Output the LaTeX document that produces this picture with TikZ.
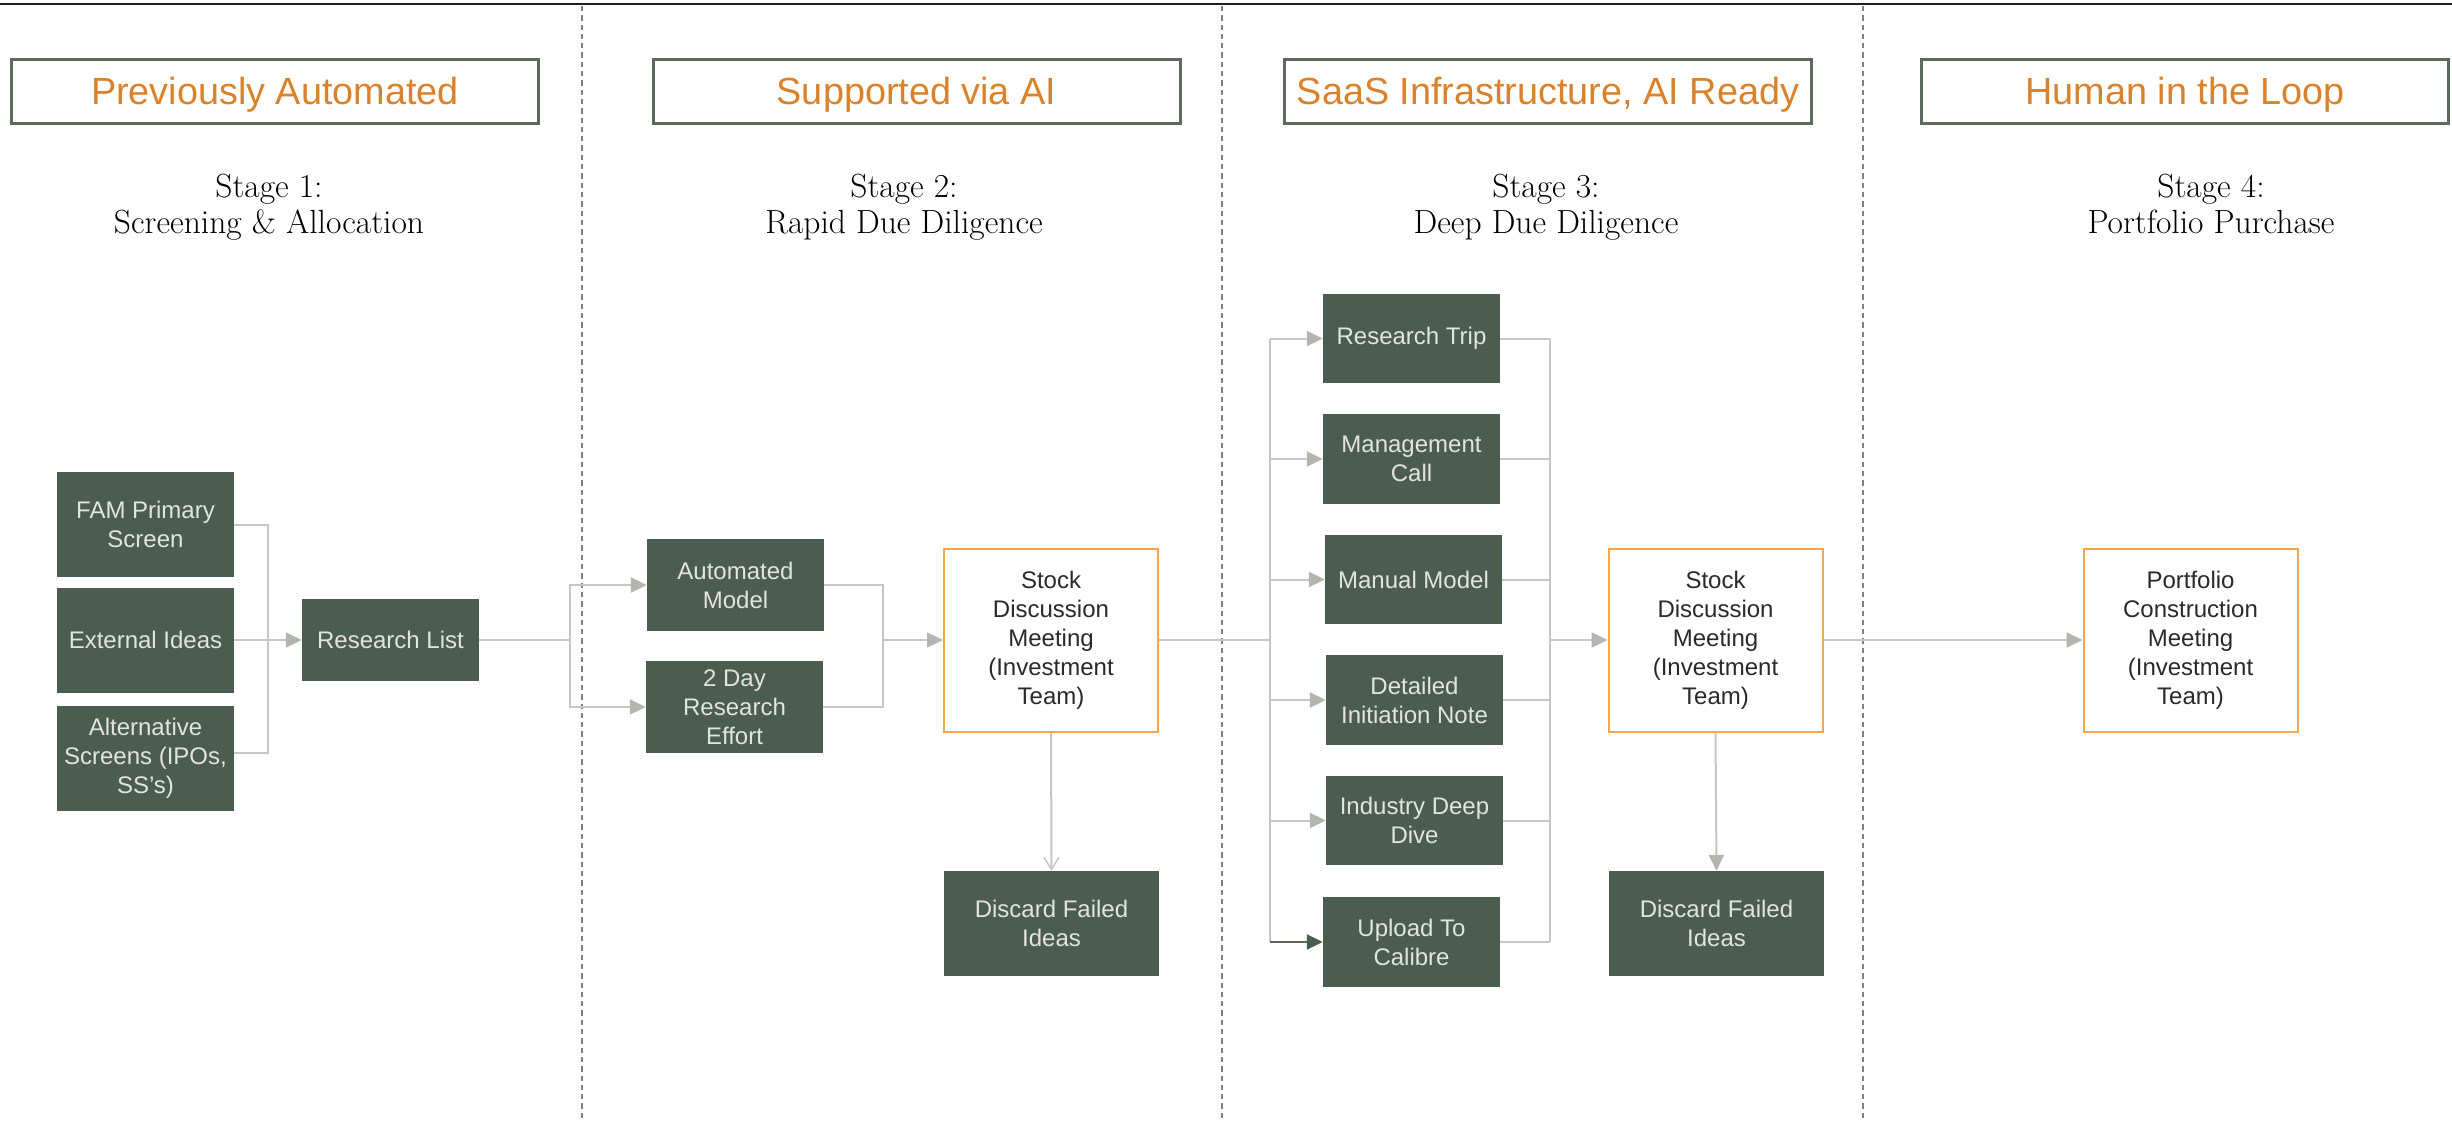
\documentclass[tikz,border=0pt]{standalone}
\usepackage{fontspec}
\usetikzlibrary{arrows.meta}
\newfontfamily\grotesk{Liberation Sans}

\definecolor{hdrline}{HTML}{5B6A5C}
\definecolor{hdrorange}{HTML}{D9822B}
\definecolor{boxgreen}{HTML}{4A5D4E}
\definecolor{boxtext}{HTML}{E4E4DE}
\definecolor{meetline}{HTML}{F5A54A}
\definecolor{darktext}{HTML}{2A2A2A}
\definecolor{linegray}{HTML}{C6C6C2}
\definecolor{tipgray}{HTML}{B3B5AE}
\definecolor{sepgray}{HTML}{7D827C}
\definecolor{ruledark}{HTML}{1E1E1E}
\definecolor{uploadline}{HTML}{5E635C}

\tikzset{
  hdrbox/.style={draw=hdrline, line width=3pt, fill=white, inner sep=0pt,
    minimum width=527pt, minimum height=64pt, text=hdrorange,
    font={\grotesk\fontsize{37.8}{45}\selectfont}, text height=27pt, text depth=0pt},
  stagetxt/.style={anchor=base, inner sep=0pt, text=black,
    font={\rmfamily\fontsize{33.5}{36}\selectfont}},
  gbox/.style={fill=boxgreen, text=boxtext, align=center, inner sep=0pt,
    minimum width=177pt, font={\grotesk\fontsize{24}{29}\selectfont}},
  meetbox/.style={draw=meetline, line width=2pt, fill=white, text=darktext,
    align=center, inner sep=0pt, minimum width=214pt, minimum height=183pt,
    font={\grotesk\fontsize{24}{29}\selectfont}},
  conn/.style={draw=linegray, line width=2pt},
  arr/.style={conn, -{Triangle[length=16pt,width=15pt,color=tipgray]}},
  openarr/.style={conn, -{Straight Barb[length=12pt,width=15pt,line width=1.5pt]}},
  uparr/.style={draw=uploadline, line width=2pt,
    -{Triangle[length=16pt,width=15pt,color=boxgreen]}},
  sepline/.style={draw=sepgray, line width=1.5pt, dash pattern=on 5.3pt off 4pt},
}

\begin{document}
\begin{tikzpicture}[x=1pt,y=-1pt]
  \useasboundingbox (0,0) rectangle (2452,1121);
  \fill[white] (0,0) rectangle (2452,1121);

  % top rule and column separators
  \draw[ruledark, line width=2pt] (0,4.5) -- (2452,4.5);
  \draw[sepline] (582,6) -- (582,1121);
  \draw[sepline] (1222,6) -- (1222,1121);
  \draw[sepline] (1863,6) -- (1863,1121);

  % column headers
  \node[hdrbox] (h1) at (275,91.5) {Previously Automated};
  \node[hdrbox] (h2) at (916.5,91.5) {Supported via AI};
  \node[hdrbox] (h3) at (1548,91.5) {SaaS Infrastructure, AI Ready};
  \node[hdrbox] (h4) at (2185,91.5) {Human in the Loop};

  % stage titles
  \node[stagetxt] (s1a) at (269,197) {Stage 1:};
  \node[stagetxt] (s1b) at (269,233) {Screening \& Allocation};
  \node[stagetxt] (s2a) at (904,197) {Stage 2:};
  \node[stagetxt] (s2b) at (904,233) {Rapid Due Diligence};
  \node[stagetxt] (s3a) at (1546,197) {Stage 3:};
  \node[stagetxt] (s3b) at (1546,233) {Deep Due Diligence};
  \node[stagetxt] (s4a) at (2211,197) {Stage 4:};
  \node[stagetxt] (s4b) at (2211,233) {Portfolio Purchase};

  % stage 1
  \node[gbox, minimum height=105pt] (fam) at (145.5,524.5) {FAM Primary\\Screen};
  \node[gbox, minimum height=105pt] (ext) at (145.5,640) {External Ideas};
  \node[gbox, minimum height=105pt] (alt) at (145.5,758.5) {Alternative\\Screens (IPOs,\\SS’s)};
  \node[gbox, minimum height=82pt] (rl) at (390.5,640) {Research List};

  % stage 2
  \node[gbox, minimum height=92pt] (am) at (735.5,585) {Automated\\Model};
  \node[gbox, minimum height=92pt] (tdr) at (734.5,707) {2 Day\\Research\\Effort};
  \node[meetbox] (sdm1) at (1051,640) {Stock\\Discussion\\Meeting\\(Investment\\Team)};
  \node[gbox, minimum width=215pt, minimum height=105pt] (disc1) at (1051.5,923.5) {Discard Failed\\Ideas};

  % stage 3
  \node[gbox, minimum height=89pt] (rt) at (1411.5,338.5) {Research Trip};
  \node[gbox, minimum height=90pt] (mc) at (1411.5,459) {Management\\Call};
  \node[gbox, minimum height=89pt] (mm) at (1413.5,579.5) {Manual Model};
  \node[gbox, minimum height=90pt] (din) at (1414.5,700) {Detailed\\Initiation Note};
  \node[gbox, minimum height=89pt] (idd) at (1414.5,820.5) {Industry Deep\\Dive};
  \node[gbox, minimum height=90pt] (utc) at (1411.5,942) {Upload To\\Calibre};
  \node[meetbox] (sdm2) at (1715.5,640) {Stock\\Discussion\\Meeting\\(Investment\\Team)};
  \node[gbox, minimum width=215pt, minimum height=105pt] (disc2) at (1716.5,923.5) {Discard Failed\\Ideas};

  % stage 4
  \node[meetbox] (pcm) at (2190.5,640) {Portfolio\\Construction\\Meeting\\(Investment\\Team)};

  % stage 1 connectors
  \coordinate (bus1) at (268,640);
  \draw[conn] (fam.east) -| (bus1) |- ([yshift=6pt]alt.east);
  \draw[arr] (ext.east) -- (rl.west);

  % stage 2 connectors
  \coordinate (bus2l) at (570,640);
  \coordinate (bus2r) at (883,640);
  \draw[conn] (rl.east) -- (bus2l);
  \draw[arr] (bus2l) |- (am.west);
  \draw[arr] (bus2l) |- (tdr.west);
  \draw[conn] (am.east) -| (bus2r);
  \draw[conn] (tdr.east) -| (bus2r);
  \draw[arr] (bus2r) -- (sdm1.west);
  \draw[openarr] (sdm1.south) -- (disc1.north);

  % stage 3 connectors
  \coordinate (bus3l) at (1270,640);
  \coordinate (bus3r) at (1550,640);
  \draw[conn] (sdm1.east) -- (bus3l);
  \draw[conn] (bus3l |- rt.west) -- (bus3l |- utc.west);
  \foreach \b in {rt,mc,mm,din,idd}{
    \draw[arr] (bus3l |- \b.west) -- (\b.west);
    \draw[conn] (\b.east) -- (bus3r |- \b.east);
  }
  \draw[uparr] (bus3l |- utc.west) -- (utc.west);
  \draw[conn] (utc.east) -- (bus3r |- utc.east);
  \draw[conn] (bus3r |- rt.east) -- (bus3r |- utc.east);
  \draw[arr] (bus3r) -- (sdm2.west);
  \draw[arr] (sdm2.south) -- (disc2.north);

  % stage 4 connector
  \draw[arr] (sdm2.east) -- (pcm.west);
\end{tikzpicture}
\end{document}
